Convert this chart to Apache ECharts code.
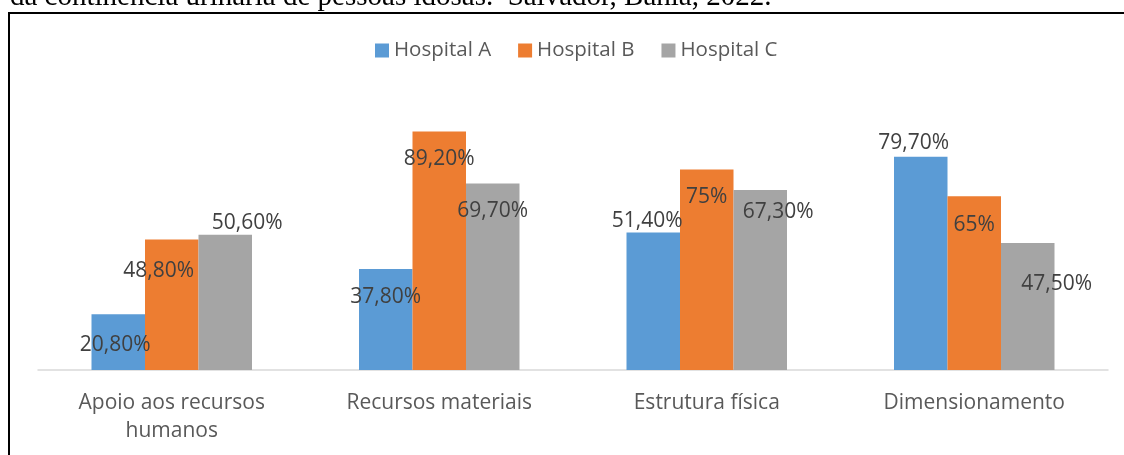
<!DOCTYPE html>
<html>
<head>
<meta charset="utf-8">
<script src="https://cdn.jsdelivr.net/npm/echarts@6/dist/echarts.min.js"></script>
<style>
html, body { margin: 0; padding: 0; background: #fff; }
#content { width: 1124px; height: 455px; }
</style>
</head>
<body>
<div id="content"></div>
<script>
var categories = ['Apoio aos recursos\nhumanos', 'Recursos materiais', 'Estrutura física', 'Dimensionamento']
var seriesNames = ['Hospital A', 'Hospital B', 'Hospital C']
var hospitalA = [20.8, 37.8, 51.4, 79.7]
var hospitalB = [48.8, 89.2, 75, 65]
var hospitalC = [50.6, 69.7, 67.3, 47.5]
var caption = 'da continência urinária de pessoas idosas.  Salvador, Bahia, 2022.'

var colors = ['#5B9BD5', '#ED7D31', '#A5A5A5']
// rótulos movidos à mão como no Excel: [dx, dy] a partir do topo da barra
var labelShift = [
    [[-3, 31], [0, 28], [-6, -11], [-7, -14]],
    [[-13, 32], [0, 28], [0, 28], [0, 29]],
    [[22, -12], [0, 27], [18, 22], [29, 41]],
]

function fmt(v) {
    if (Number.isInteger(v)) return v + '%'
    return v.toFixed(2).replace('.', ',') + '%'
}

function buildSeries(idx, values) {
    return {
        name: seriesNames[idx],
        type: 'bar',
        barGap: 0,
        barCategoryGap: '40%',
        itemStyle: { color: colors[idx] },
        data: values.map(function (v, i) {
            return {
                value: v,
                label: {
                    show: true,
                    position: ['50%', 0],
                    offset: labelShift[idx][i],
                    align: 'center',
                    verticalAlign: 'middle',
                    formatter: function (p) { return fmt(p.value) },
                    color: '#404040',
                    fontSize: 21,
                    fontFamily: 'Open Sans',
                },
            }
        }),
    }
}

var chart = echarts.init(document.getElementById('content'))
var option = {
    backgroundColor: '#fff',
    animation: false,
    graphic: [
        {
            type: 'text',
            left: 10,
            top: -17,
            style: {
                text: caption,
                fontSize: 29,
                fontFamily: 'Liberation Serif',
                fill: '#000',
            },
        },
        {
            type: 'rect',
            shape: { x: 9, y: 13, width: 1300, height: 600 },
            style: { fill: 'none', stroke: '#000', lineWidth: 2 },
        },
    ],
    legend: {
        data: seriesNames,
        left: 375,
        top: 40,
        padding: 0,
        itemWidth: 14,
        itemHeight: 14,
        itemGap: 27,
        icon: 'rect',
        textStyle: { color: '#595959', fontSize: 20.5, fontFamily: 'Open Sans', lineHeight: 20 },
    },
    grid: { left: 38, right: 16, top: 102.5, bottom: 85 },
    xAxis: {
        type: 'category',
        data: categories,
        axisLine: { lineStyle: { color: '#D9D9D9', width: 1.5 } },
        axisTick: { show: false },
        axisLabel: {
            color: '#595959',
            fontSize: 21,
            fontFamily: 'Open Sans',
            lineHeight: 28,
            margin: 19,
        },
    },
    yAxis: {
        type: 'value',
        min: 0,
        max: 100,
        show: false,
        splitLine: { show: false },
    },
    series: [
        buildSeries(0, hospitalA),
        buildSeries(1, hospitalB),
        buildSeries(2, hospitalC),
    ],
}
chart.setOption(option)
</script>
</body>
</html>
